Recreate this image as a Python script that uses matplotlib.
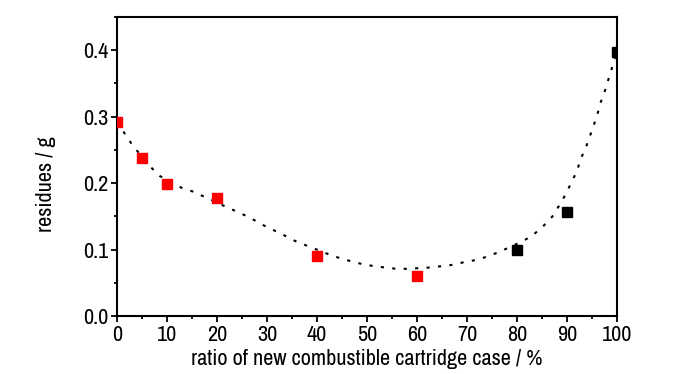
import matplotlib
matplotlib.use("Agg")
import matplotlib.pyplot as plt
from matplotlib.ticker import MultipleLocator
from matplotlib import font_manager as fm

# measured data
red_x = [0, 5, 10, 20, 40, 60]
red_y = [0.292, 0.238, 0.198, 0.178, 0.090, 0.060]
black_x = [80, 90, 100]
black_y = [0.099, 0.156, 0.397]

# fitted trend curve
fit_x = [0, 1.6, 3.1, 6.5, 8.5, 12.9, 15.3, 17.6, 21.9, 24.3, 26.6, 28.9, 31.1, 33.3,
         35.6, 37.9, 42.3, 44.6, 47.0, 49.1, 51.4, 53.6, 55.9, 58.1, 60.4, 62.6, 64.9,
         67.1, 69.4, 71.6, 73.9, 76.3, 80.7, 82.9, 85.1, 87.1, 88.5, 89.8, 90.8, 92.0,
         92.7, 93.7, 94.5, 95.3, 96.1, 96.7, 97.5, 98.2, 98.9, 99.6]
fit_y = [0.292, 0.274, 0.257, 0.226, 0.211, 0.193, 0.187, 0.179, 0.164, 0.156, 0.148,
         0.138, 0.130, 0.122, 0.113, 0.106, 0.093, 0.087, 0.082, 0.078, 0.075, 0.073,
         0.071, 0.071, 0.072, 0.073, 0.075, 0.077, 0.081, 0.084, 0.089, 0.096, 0.111,
         0.120, 0.134, 0.150, 0.167, 0.184, 0.200, 0.218, 0.236, 0.252, 0.269, 0.286,
         0.304, 0.321, 0.337, 0.354, 0.371, 0.388]

x_ticks = list(range(0, 101, 10))
y_ticks = [0.0, 0.1, 0.2, 0.3, 0.4]

available = {f.name for f in fm.fontManager.ttflist}
narrow_prefs = ['Liberation Sans Narrow', 'Arial Narrow', 'Archivo Narrow', 'PT Sans Narrow',
                'Roboto Condensed', 'Open Sans Condensed', 'Asap Condensed']
chosen = next((n for n in narrow_prefs if n in available), None)
if chosen:
    plt.rcParams['font.family'] = [chosen, 'Liberation Sans', 'DejaVu Sans']
    fs = 16
else:
    plt.rcParams['font.family'] = ['Liberation Sans', 'DejaVu Sans']
    fs = 14

fig = plt.figure(figsize=(7.0, 3.74), dpi=100)
ax = fig.add_axes([117/700, 1 - 316/374, 500/700, 299/374])

ax.plot(fit_x, fit_y, color='black', lw=1.5, linestyle=(0, (1.5, 4.0)), zorder=2)
ax.plot(red_x, red_y, 's', color='#ff0000', ms=7, mec='#ff0000', zorder=3)
ax.plot(black_x, black_y, 's', color='black', ms=7, zorder=3)

ax.set_xlim(0, 100)
ax.set_ylim(0, 0.45)
ax.set_xticks(x_ticks)
ax.set_yticks(y_ticks)
ax.set_yticklabels([f"{v:.1f}" for v in y_ticks])
ax.xaxis.set_minor_locator(MultipleLocator(5))
ax.yaxis.set_minor_locator(MultipleLocator(0.05))

for s in ax.spines.values():
    s.set_linewidth(1.5)
ax.tick_params(which='major', direction='out', length=4.5, width=1.3, labelsize=fs, pad=2,
               top=False, right=False)
ax.tick_params(which='minor', direction='out', length=2.5, width=1.3, top=False, right=False)

ax.set_xlabel('ratio of new combustible cartridge case / %', fontsize=fs, labelpad=3)
ax.set_ylabel('residues / g', fontsize=fs)
ax.yaxis.set_label_coords(-0.122, 0.44)

fig.savefig('out.png', dpi=100)
